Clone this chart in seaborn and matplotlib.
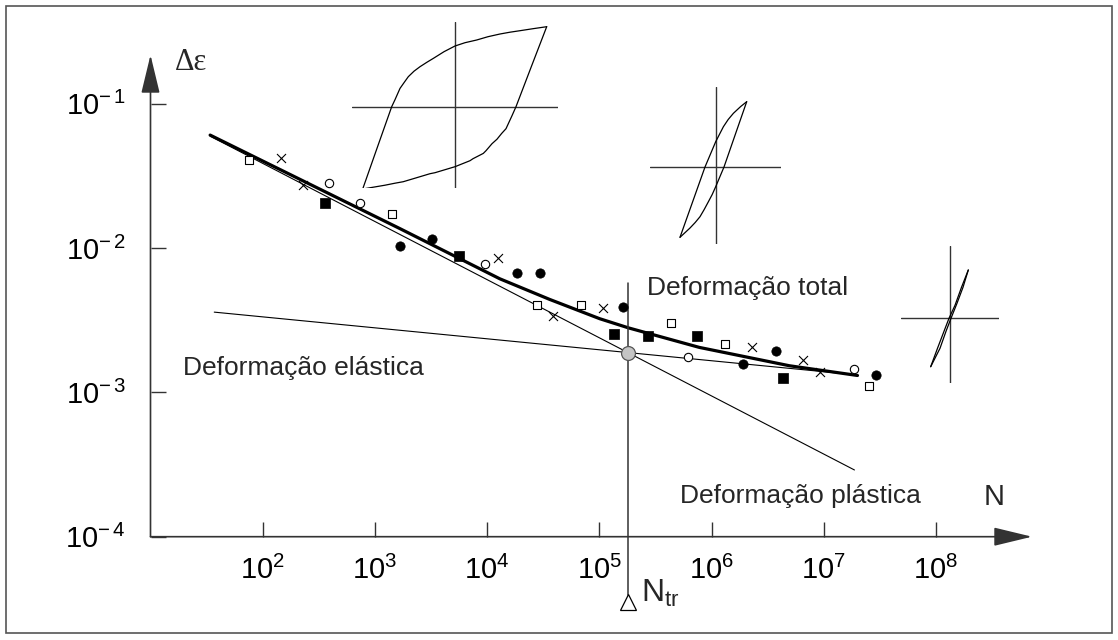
import matplotlib
matplotlib.use("Agg")
import matplotlib.pyplot as plt
import seaborn as sns
from matplotlib import font_manager as fm
from matplotlib.patches import Rectangle
from matplotlib.ticker import NullLocator

# ---------------- data ----------------
xtick_exps = [2, 3, 4, 5, 6, 7, 8]
ytick_exps = [-1, -2, -3, -4]

# total strain curve (thick)
total_N = [34, 214, 1670, 12970, 36100, 1.01e5, 1.82e5, 7.8e5, 4.95e6, 2.0e7]
total_eps = [0.0607, 0.030, 0.01365, 6.13e-3, 4.41e-3, 3.24e-3, 2.80e-3, 2.05e-3, 1.53e-3, 1.31e-3]

# elastic and plastic straight lines (log-log)
elastic_N = [37, 2.0e7]
elastic_eps = [3.6e-3, 1.32e-3]
plastic_N = [34, 1.88e7]
plastic_eps = [0.0597, 2.9e-4]

# transition point
ntr_N = 1.82e5
ntr_eps = 1.88e-3
ntr_line_top = 5.75e-3
ntr_line_bottom = 3.94e-5
ntr_marker_eps = 3.5e-5

# experimental points
open_sq_N = [75, 1420, 28060, 68060, 4.38e5, 1.32e6, 2.55e7]
open_sq_eps = [0.0407, 0.01734, 4.05e-3, 4.06e-3, 3.01e-3, 2.17e-3, 1.10e-3]
cross_N = [147, 230, 12500, 38600, 1.08e5, 2.30e6, 6.59e6, 9.29e6]
cross_eps = [0.0418, 0.0272, 8.53e-3, 3.37e-3, 3.86e-3, 2.08e-3, 1.69e-3, 1.38e-3]
open_circ_N = [389, 735, 9660, 6.15e5, 1.85e7]
open_circ_eps = [0.0282, 0.0207, 7.80e-3, 1.77e-3, 1.45e-3]
fill_circ_N = [1690, 3230, 18620, 29400, 1.61e5, 1.90e6, 3.77e6, 2.93e7]
fill_circ_eps = [0.01033, 0.01161, 6.75e-3, 6.75e-3, 3.89e-3, 1.57e-3, 1.93e-3, 1.32e-3]
fill_sq_N = [358, 5620, 1.34e5, 2.71e5, 7.46e5, 4.32e6]
fill_sq_eps = [0.0205, 8.80e-3, 2.52e-3, 2.44e-3, 2.44e-3, 1.26e-3]

# hysteresis loop shapes (strain, stress) in arbitrary units
loop1_up_x = [-92.3, -78.6, -63.3, -60, -55, -51, -46.7, -41, -35, -28, -21.7, -11, 0, 10,
              21.7, 33, 45, 55, 65, 78, 91.7]
loop1_up_y = [-82.3, -43.3, 0, 7, 18.3, 24, 30, 35.5, 40, 44.5, 48.3, 55, 60.7, 64,
              66.7, 70, 72.7, 74.5, 76, 78, 80]
loop1_dn_x = [91.7, 76.3, 61, 57, 51, 46.7, 42, 37, 31, 28.3, 18, 15, 0, -20, -25, -40,
              -51.7, -60, -70, -92.3]
loop1_dn_y = [80, 40, 0, -9, -22, -26.7, -32.5, -37, -44, -46.7, -52, -54, -60, -66, -67,
              -71.5, -75, -76.5, -78.5, -82.3]

loop2_up_x = [-35.7, -23.6, -10.7, 0, 7.7, 12.5, 17.7, 25, 31]
loop2_up_y = [-70.3, -36.3, 0, 25.3, 40.3, 47.5, 53.7, 60.5, 65.3]
loop2_dn_x = [31, 20, 8.3, 0, -3.5, -7.3, -11.5, -15.7, -20.5, -25.7, -35.7]
loop2_dn_y = [65.3, 33.7, 0, -19.7, -27.5, -34.7, -42.5, -49.7, -55.5, -61, -70.3]

loop3_up_x = [-19.3, -12.5, -6, -1, 5, 11.5, 18.3]
loop3_up_y = [-48.4, -30, -13, 0, 13, 31, 48.3]
loop3_dn_x = [18.3, 13, 7, 1, -4, -10, -19.3]
loop3_dn_y = [48.3, 31, 15, 0, -13, -30, -48.4]

# ---------------- style ----------------
sns.set_theme(style="white")
names = {f.name for f in fm.fontManager.ttflist}
narrow = "Liberation Sans Narrow" in names
plt.rcParams["font.family"] = ["Liberation Sans", "DejaVu Sans"]
plt.rcParams["mathtext.fontset"] = "custom"
plt.rcParams["mathtext.rm"] = "Liberation Sans"
plt.rcParams["mathtext.it"] = "Liberation Sans:italic"
plt.rcParams["mathtext.bf"] = "Liberation Sans:bold"

label_family = ["Liberation Sans Narrow", "Liberation Sans"] if narrow else ["Liberation Sans"]
label_size = 22 if narrow else 19

W, H = 1118, 640
DPI = 100
fig = plt.figure(figsize=(W / DPI, H / DPI), dpi=DPI)
fig.patch.set_facecolor("white")

AX_COL = "#333333"

def fx(px):
    return px / W

def fy(py):
    return 1 - py / H

# main axes: left spine at x=150.5 px, x-axis at y=536.7 px
ax = fig.add_axes([fx(150.5), fy(536.7), (1032 - 150.5) / W, (536.7 - 55) / H])
ax.set_xscale("log")
ax.set_yscale("log")
ax.set_xlim(10 ** 1, 10 ** (1 + (1032 - 150.5) / 112.2))
ax.set_ylim(10 ** -4, 10 ** (-4 + (536.7 - 55) / 144.3))
ax.patch.set_alpha(0)
for s in ax.spines.values():
    s.set_visible(False)

# axes with arrows
arrow_kw = dict(arrowstyle="-|>,head_length=2.4,head_width=0.58", mutation_scale=10,
                color=AX_COL, lw=1.2, shrinkA=0, shrinkB=0)
ax.annotate("", xy=(1, 0), xytext=(0, 0), xycoords="axes fraction",
            textcoords="axes fraction", arrowprops=arrow_kw, annotation_clip=False)
ax.annotate("", xy=(0, 1), xytext=(0, 0), xycoords="axes fraction",
            textcoords="axes fraction", arrowprops=arrow_kw, annotation_clip=False)

ax.set_xticks([10.0 ** e for e in xtick_exps])
ax.set_xticklabels([r"$\mathregular{10^{%d}}$" % e for e in xtick_exps])
ax.set_yticks([10.0 ** e for e in ytick_exps])
ax.set_yticklabels([r"$\mathregular{10^{-\,%d}}$" % (-e) for e in ytick_exps])
ax.xaxis.set_minor_locator(NullLocator())
ax.yaxis.set_minor_locator(NullLocator())
ax.tick_params(axis="both", which="major", direction="in", length=11, width=1.0,
               color=AX_COL, labelsize=21, labelcolor="black")
ax.tick_params(axis="x", pad=14, bottom=True)
ax.tick_params(axis="y", pad=18, left=True)

# lines
sns.lineplot(x=plastic_N, y=plastic_eps, ax=ax, color="black", lw=0.8, sort=False, estimator=None)
sns.lineplot(x=elastic_N, y=elastic_eps, ax=ax, color="black", lw=0.8, sort=False, estimator=None)
sns.lineplot(x=total_N, y=total_eps, ax=ax, color="black", lw=2.3, sort=False, estimator=None)

# transition line and marker
ax.plot([ntr_N, ntr_N], [ntr_line_bottom, ntr_line_top], color=AX_COL, lw=1.1, clip_on=False, zorder=2)
ax.plot([ntr_N], [ntr_marker_eps], marker="^", ms=11.5, mfc="white", mec="black", mew=0.9,
        clip_on=False, zorder=3)
ax.plot([ntr_N], [ntr_eps], marker="o", ms=10, mfc="#c4c4c4", mec="#555555", mew=0.9, zorder=4)

# points
sns.scatterplot(x=open_sq_N, y=open_sq_eps, ax=ax, marker="s", s=36, color="white",
                edgecolor="black", linewidth=0.8, zorder=5)
sns.scatterplot(x=fill_sq_N, y=fill_sq_eps, ax=ax, marker="s", s=42, color="black",
                edgecolor="black", linewidth=0.5, zorder=5)
sns.scatterplot(x=open_circ_N, y=open_circ_eps, ax=ax, marker="o", s=36, color="white",
                edgecolor="black", linewidth=0.8, zorder=5)
sns.scatterplot(x=fill_circ_N, y=fill_circ_eps, ax=ax, marker="o", s=45, color="black",
                edgecolor="black", linewidth=0.5, zorder=5)
sns.scatterplot(x=cross_N, y=cross_eps, ax=ax, marker="x", s=42, color="black",
                linewidth=0.8, zorder=5)

# texts
fig.text(fx(646.7), fy(295), "Deformação total", family=label_family, fontsize=label_size,
         ha="left", va="baseline")
fig.text(fx(183.3), fy(375), "Deformação elástica", family=label_family, fontsize=label_size,
         ha="left", va="baseline")
fig.text(fx(680), fy(503.3), "Deformação plástica", family=label_family, fontsize=label_size,
         ha="left", va="baseline")
fig.text(fx(984), fy(505), "N", fontsize=21, ha="left", va="baseline")
fig.text(fx(641), fy(601.7), r"$\mathregular{N_{tr}}$", fontsize=23, ha="left", va="baseline")
fig.text(fx(175), fy(70), "Δε", family=["Liberation Serif", "DejaVu Serif"], fontsize=22,
         ha="left", va="baseline")

# hysteresis loop insets
def loop_axes(x0, y0, x1, y1, cx, cy, ux, uy, dx, dy):
    a = fig.add_axes([fx(x0), fy(y1), (x1 - x0) / W, (y1 - y0) / H])
    a.set_xlim(x0 - cx, x1 - cx)
    a.set_ylim(cy - y1, cy - y0)
    a.axis("off")
    a.axhline(0, color=AX_COL, lw=1.0)
    a.axvline(0, color=AX_COL, lw=1.0)
    a.plot(ux, uy, color="black", lw=0.9, solid_joinstyle="round")
    a.plot(dx, dy, color="black", lw=0.9, solid_joinstyle="round")
    return a

loop_axes(351.7, 21.7, 558.3, 188.3, 455, 106.7, loop1_up_x, loop1_up_y, loop1_dn_x, loop1_dn_y)
loop_axes(650, 86.7, 780.7, 244.3, 715.7, 167, loop2_up_x, loop2_up_y, loop2_dn_x, loop2_dn_y)
loop_axes(900.7, 245.7, 999, 383, 950, 318.3, loop3_up_x, loop3_up_y, loop3_dn_x, loop3_dn_y)

# outer frame
fig.add_artist(Rectangle((fx(6), fy(633)), (1112 - 6) / W, (633 - 6) / H,
                         transform=fig.transFigure, fill=False, ec="#555555", lw=1.2))

fig.savefig("out.png", dpi=DPI, facecolor="white")
